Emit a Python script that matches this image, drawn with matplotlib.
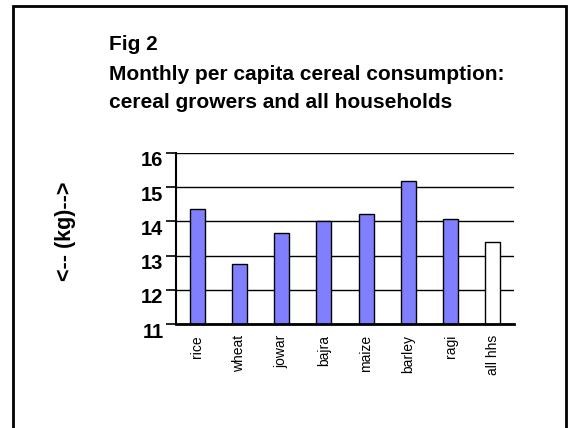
import matplotlib.pyplot as plt
import matplotlib.transforms as mtransforms
from matplotlib.patches import Rectangle

plt.rcParams['font.family'] = ['Liberation Sans', 'DejaVu Sans']

# monthly per capita cereal consumption (kg)
cereals = ["rice", "wheat", "jowar", "bajra", "maize", "barley", "ragi", "all hhs"]
consumption = [14.35, 12.76, 13.65, 14.0, 14.23, 15.18, 14.06, 13.40]
bar_colors = ["#8080ff"] * 7 + ["white"]
y_ticks = [11, 12, 13, 14, 15, 16]

W, H = 569, 428
fig = plt.figure(figsize=(W / 100, H / 100), dpi=100)

# outer frame (open at the bottom edge of the picture)
fig.patches.append(Rectangle((13 / W, -0.05), (566 - 13) / W, 1.05 - 6 / H,
                             transform=fig.transFigure, fill=False,
                             edgecolor="black", linewidth=2))

ax = fig.add_axes([176 / W, 1 - 324 / H, (514 - 176) / W, (324 - 153) / H])
x = range(len(cereals))
ax.bar(x, consumption, width=0.36, color=bar_colors,
       edgecolor="black", linewidth=1, zorder=3)
ax.set_xlim(-0.5, len(cereals) - 0.5)
ax.set_ylim(11, 16)
ax.set_yticks(y_ticks)
ax.set_yticklabels([str(t) for t in y_ticks], fontsize=14.5, fontweight="bold")
ax.set_xticks(list(x))
ax.set_xticklabels(cereals, rotation=90, fontsize=10)
ax.tick_params(axis="x", length=0, pad=8)
ax.tick_params(axis="y", length=7, width=1.2, pad=2)
# labels sit slightly below their ticks in the original
shift = mtransforms.ScaledTranslation(0, -6 / 100, fig.dpi_scale_trans)
for lab in ax.get_yticklabels():
    lab.set_transform(lab.get_transform() + shift)
ax.grid(axis="y", color="black", linewidth=1, zorder=0)
for s in ["top", "right"]:
    ax.spines[s].set_visible(False)
ax.spines["left"].set_linewidth(1.5)
ax.spines["bottom"].set_linewidth(2)
ax.spines["bottom"].set_zorder(4)

fig.text(109 / W, 1 - 45 / H, "Fig 2", fontsize=15, fontweight="bold", va="center")
fig.text(109 / W, 1 - 74 / H, "Monthly per capita cereal consumption:",
         fontsize=15, fontweight="bold", va="center")
fig.text(109 / W, 1 - 103 / H, "cereal growers and all households",
         fontsize=15, fontweight="bold", va="center")
fig.text(66 / W, 1 - 231 / H, "<-- (kg)-->", rotation=90, fontsize=15.5,
         fontweight="bold", ha="center", va="center")

fig.savefig("out.png", dpi=100)
